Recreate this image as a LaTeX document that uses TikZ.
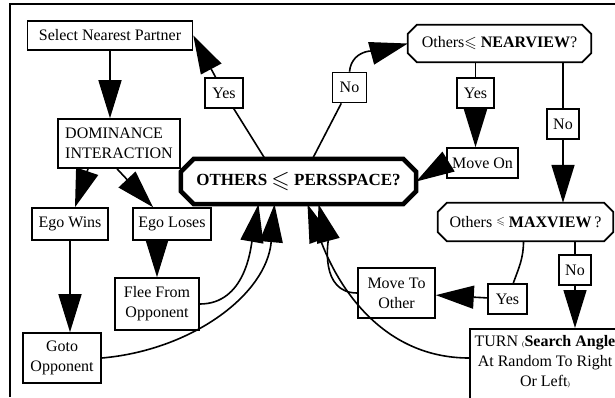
\documentclass[tikz,border=0pt]{standalone}
\usepackage{amsmath,amssymb,graphicx}
\usepackage{fontspec}
\setmainfont{Liberation Serif}
\usetikzlibrary{arrows.meta}

\tikzset{
  box/.style={draw, line width=1.6pt, inner sep=2pt, align=center},
  lbl/.style={box, minimum width=34pt, minimum height=30pt},
  octa/.style={inner sep=2pt, align=center},
  arr/.style={line width=1.6pt, -{Triangle[length=38pt,width=23pt]}},
  link/.style={line width=1.6pt}
}
% octagonal frame round a node: width, node, corner cut
\newcommand{\octframe}[3]{%
  \draw[line width=#1, line join=miter] ([xshift=#3]#2.north west) -- ([xshift=-#3]#2.north east)
    -- ([yshift=-#3]#2.north east) -- ([yshift=#3]#2.south east)
    -- ([xshift=-#3]#2.south east) -- ([xshift=#3]#2.south west)
    -- ([yshift=#3]#2.south west) -- ([yshift=-#3]#2.north west) -- cycle;}

\begin{document}
\begin{tikzpicture}[x=1pt,y=1pt,font=\fontsize{16}{20}\selectfont]
        \useasboundingbox (0,-397) rectangle (615,0);
        \clip (0,-397) rectangle (615,0);
        \draw[line width=2.5pt] (10,-397) |- (615,-4);
        % boxes
        \node[box, minimum width=165pt, minimum height=29pt] (select) at (110,-35.5) {Select Nearest Partner};
        \node[box, align=left, minimum width=122pt, minimum height=49pt] (dom) at (119,-143.5) {DOMINANCE\\INTERACTION};
        \node[octa, minimum width=235pt, minimum height=45pt] (persspace) at (298.5,-181.5)
            {\fontsize{17}{20}\selectfont\textbf{OTHERS \raisebox{-2pt}{\scalebox{1.4}{$\boldsymbol{\leqslant}$}} PERSSPACE?}};
        \octframe{4.5pt}{persspace}{13pt}
        \node[octa, minimum width=183pt, minimum height=37pt] (nearview) at (499.5,-43.5) {Others{\boldmath$\leqslant$} \textbf{NEARVIEW}?};
        \octframe{1.8pt}{nearview}{9pt}
        \node[octa, minimum width=175pt, minimum height=38pt] (maxview) at (525.5,-222) {Others \raisebox{3pt}{$\scriptstyle\leqslant$} \textbf{MAXVIEW}\,?};
        \octframe{1.8pt}{maxview}{9pt}
        \node[box, minimum width=71pt, minimum height=30pt] (moveon) at (482.5,-163) {Move On};
        \node[box, minimum width=77pt, minimum height=50pt] (moveto) at (396.5,-293) {Move To\\Other};
        \node[box, anchor=north, inner ysep=7pt, minimum width=150pt, text depth=20pt] (turn) at (545,-328)
            {TURN {\scriptsize(}\textbf{Search Angle}\\At Random To Right\\Or Left{\scriptsize)}};
        \node[box, minimum width=76pt, minimum height=32pt] (egowins) at (70,-224) {Ego Wins};
        \node[box, minimum width=78pt, minimum height=32pt] (egoloses) at (172,-224) {Ego Loses};
        \node[box, minimum width=84pt, minimum height=52pt] (flee) at (157,-304) {Flee From\\Opponent};
        \node[box, minimum width=78pt, minimum height=50pt] (goto) at (62,-358) {Goto\\Opponent};
        % answers
        \node[lbl, minimum width=38pt] (yes1) at (224,-93) {Yes};
        \node[lbl] (no1) at (349.5,-87.5) {No};
        \node[lbl, minimum width=37pt] (yes2) at (475.5,-93) {Yes};
        \node[lbl, minimum width=32pt] (no2) at (563,-124) {No};
        \node[lbl, minimum width=32pt] (no3) at (575,-270) {No};
        \node[lbl, minimum width=39pt] (yes3) at (507.5,-299) {Yes};
        % connectors
        \draw[arr] (select.south) -- (select.south |- dom.north);
        \draw[arr] ([xshift=-31pt]dom.south) -- ([xshift=5pt]egowins.north);
        \draw[arr] ([xshift=-2pt]dom.south) -- ([xshift=-19pt]egoloses.north);
        \draw[arr] (egowins.south) -- (egowins.south |- goto.north);
        \draw[arr] (egoloses.south -| flee.north) -- (flee.north);
        \draw[link] ([xshift=-33.5pt]persspace.north) -- (yes1);
        \draw[arr] (yes1) -- (select.east);
        \draw[link] ([xshift=14pt]persspace.north) -- (no1);
        \draw[arr] (no1.north) to[out=85,in=195] (nearview.west);
        \draw[link] (yes2 |- nearview.south) -- (yes2);
        \draw[arr] (yes2) -- (yes2 |- moveon.north);
        \draw[link] (no2 |- nearview.south) -- (no2);
        \draw[arr] (no2) -- (no2 |- maxview.north);
        \draw[arr] (moveon.west) -- (persspace.east);
        \draw[link] ([xshift=-2pt]maxview.south) to[out=-90,in=70] (yes3);
        \draw[arr] (yes3) -- (moveto);
        \draw[link] (no3 |- maxview.south) -- (no3);
        \draw[arr] (no3) -- (no3 |- turn.north);
        \draw[arr] (moveto.west) to[out=180,in=-75] ([xshift=20pt]persspace.south);
        \draw[arr] ([yshift=-30pt]turn.north west) to[out=180,in=-70] ([xshift=9pt]persspace.south);
        \draw[arr] (flee.east) to[out=0,in=-100] ([xshift=-40pt]persspace.south);
        \draw[arr] (goto.east) to[out=5,in=-95] ([xshift=-24pt]persspace.south);
    \end{tikzpicture}
\end{document}
